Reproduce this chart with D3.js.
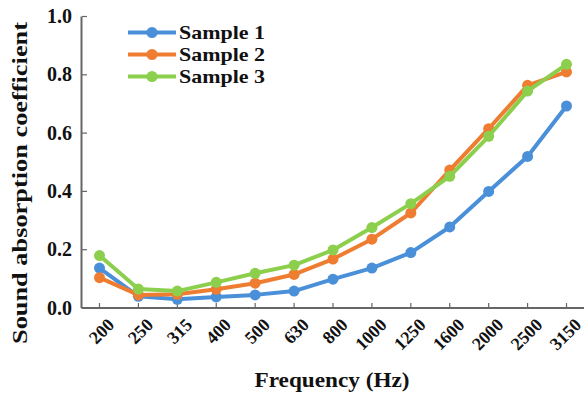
<!DOCTYPE html>
<html><head><meta charset="utf-8">
<script src="https://cdn.jsdelivr.net/npm/d3@7"></script>
<style>body{margin:0;background:#fff}svg{display:block}</style>
</head><body>
<svg id="c" width="584" height="402"></svg>
<script>
const categories = ["200","250","315","400","500","630","800","1000","1250","1600","2000","2500","3150"];
const sample1 = [0.137,0.04,0.03,0.038,0.045,0.058,0.099,0.137,0.19,0.278,0.40,0.52,0.693];
const sample2 = [0.104,0.045,0.047,0.064,0.085,0.115,0.168,0.236,0.326,0.473,0.615,0.764,0.81];
const sample3 = [0.18,0.065,0.058,0.088,0.119,0.147,0.199,0.276,0.358,0.452,0.589,0.744,0.836];
const seriesNames = ["Sample 1","Sample 2","Sample 3"];
const yTicks = [0,0.2,0.4,0.6,0.8,1.0];

const series = [
  {name: seriesNames[0], values: sample1, color: "#4a90d9"},
  {name: seriesNames[1], values: sample2, color: "#ee7d31"},
  {name: seriesNames[2], values: sample3, color: "#8ccf4d"}
];

const svg = d3.select("#c");
const font = "'Liberation Serif','Times New Roman',serif";
const x = d3.scalePoint().domain(categories).range([99.5, 566.5]);
const y = d3.scaleLinear().domain([0,1]).range([308, 16.5]);
const axisColor = "#666";

// axes
const ax = svg.append("g");
ax.append("line").attr("x1",81.5).attr("x2",81.5).attr("y1",16.5).attr("y2",308).attr("stroke",axisColor).attr("stroke-width",2);
ax.append("line").attr("x1",81.5).attr("x2",584).attr("y1",308).attr("y2",308).attr("stroke",axisColor).attr("stroke-width",2);
yTicks.forEach(t=>{
  ax.append("line").attr("x1",82).attr("x2",87).attr("y1",y(t)).attr("y2",y(t)).attr("stroke",axisColor).attr("stroke-width",1.2);
  ax.append("text").attr("x",72).attr("y",y(t)).attr("dy","0.33em").attr("text-anchor","end")
    .attr("font-family",font).attr("font-weight","bold").attr("font-size",20).attr("fill","#111").text(d3.format(".1f")(t));
});
categories.forEach(c=>{
  ax.append("line").attr("x1",x(c)).attr("x2",x(c)).attr("y1",308).attr("y2",303).attr("stroke",axisColor).attr("stroke-width",1.2);
  ax.append("text").attr("transform",`translate(${x(c)+7},${317}) rotate(-45)`).attr("text-anchor","end").attr("dy","0.7em")
    .attr("font-family",font).attr("font-weight","bold").attr("font-size",18).attr("fill","#111").text(c);
});

// titles
svg.append("text").attr("transform","translate(20,183) rotate(-90)").attr("text-anchor","middle").attr("dy","0.35em")
  .attr("font-family",font).attr("font-weight","bold").attr("font-size",21).attr("fill","#111")
  .attr("textLength",322).attr("lengthAdjust","spacingAndGlyphs").text("Sound absorption coefficient");
svg.append("text").attr("x",332).attr("y",387).attr("text-anchor","middle")
  .attr("font-family",font).attr("font-weight","bold").attr("font-size",22).attr("fill","#111")
  .attr("textLength",155).attr("lengthAdjust","spacingAndGlyphs").text("Frequency (Hz)");

// lines
const line = d3.line().x((d,i)=>x(categories[i])).y(d=>y(d));
series.forEach(s=>{
  const g = svg.append("g");
  g.append("path").attr("d",line(s.values)).attr("fill","none").attr("stroke",s.color).attr("stroke-width",4).attr("stroke-linejoin","round");
  g.selectAll("circle").data(s.values).join("circle").attr("cx",(d,i)=>x(categories[i])).attr("cy",d=>y(d)).attr("r",5.5).attr("fill",s.color);
});

// legend
series.forEach((s,i)=>{
  const ly = 32.5 + i*22;
  svg.append("line").attr("x1",128).attr("x2",176).attr("y1",ly).attr("y2",ly).attr("stroke",s.color).attr("stroke-width",4);
  svg.append("circle").attr("cx",152).attr("cy",ly).attr("r",5.5).attr("fill",s.color);
  svg.append("text").attr("x",179).attr("y",ly).attr("dy","0.35em").attr("font-family",font).attr("font-weight","bold")
    .attr("font-size",19.5).attr("textLength",86).attr("lengthAdjust","spacingAndGlyphs").attr("fill","#111").text(s.name);
});
</script>
</body></html>
